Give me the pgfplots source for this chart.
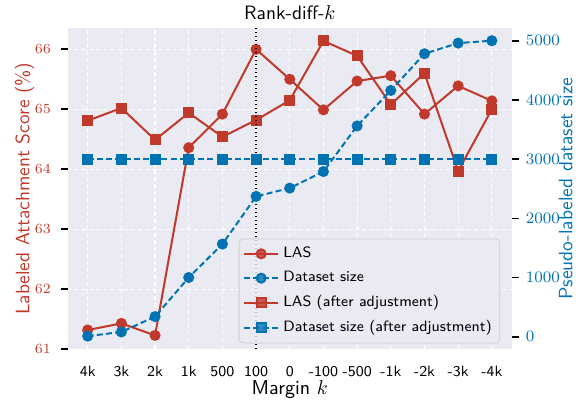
\documentclass[border=0pt]{standalone}
\usepackage{pgfplots}
\usepackage{pgfplotstable}
\pgfplotsset{compat=1.18}

\definecolor{lasred}{RGB}{192,57,43}
\definecolor{dsblue}{RGB}{1,115,178}
\definecolor{bggray}{RGB}{234,234,242}

% idx: 0=4k ... 12=-4k
\pgfplotstableread{
idx las   lasadj size sizeadj
0   61.32 64.81  10   3000
1   61.43 65.02  80   3000
2   61.23 64.49  340  3000
3   64.36 64.94  1000 3000
4   64.92 64.54  1565 3000
5   66.00 64.82  2370 3000
6   65.50 65.15  2510 3000
7   64.99 66.14  2790 3000
8   65.47 65.89  3560 3000
9   65.56 65.08  4160 3000
10  64.92 65.60  4780 3000
11  65.39 63.97  4960 3000
12  65.14 65.00  5000 3000
}\data

\pgfplotsset{
  twin/.style={
    scale only axis, width=221.85pt, height=160.9pt,
    xmin=-0.585, xmax=12.59,
    axis line style={draw=none},
    tick align=outside, major tick length=3.5pt,
  },
  lasline/.style={lasred, line width=1pt, mark size=2.25pt, mark options={solid, fill=lasred, draw=lasred}},
  dsline/.style={dsblue, line width=1pt, dash pattern=on 3pt off 1.6pt, mark size=2.25pt, mark options={solid, fill=dsblue, draw=dsblue}},
}

\begin{document}
\begin{tikzpicture}
\begin{axis}[twin,
  ymin=60.995, ymax=66.36,
  axis background/.style={fill=bggray},
  xtick={0,...,12},
  xticklabels={\textsf{4k},\textsf{3k},\textsf{2k},\textsf{1k},\textsf{500},\textsf{100},\textsf{0},\textsf{-100},\textsf{-500},\textsf{-1k},\textsf{-2k},\textsf{-3k},\textsf{-4k}},
  xtick pos=bottom, xtick style={draw=none},
  xticklabel style={font=\sffamily\fontsize{7.5}{9}\selectfont, anchor=base, yshift=-9.8pt},
  ytick={61,62,63,64,65,66}, ytick pos=left,
  ytick style={black, line width=0.8pt},
  yticklabel style={text=lasred, font=\fontsize{7.5}{9}\selectfont, xshift=-1.5pt},
  grid=major, major grid style={white, line width=0.6pt, dash pattern=on 2pt off 1.5pt},
  title={Rank-diff-$k$},
  every axis title/.style={at={(rel axis cs:0.5,1)}, anchor=base, yshift=3.9pt, font=\sffamily\fontsize{9.7}{11}\selectfont},
  xlabel={Margin $k$},
  every axis x label/.style={at={(rel axis cs:0.5,0)}, anchor=base, yshift=-22.7pt, font=\sffamily\fontsize{10}{12}\selectfont},
  ylabel={Labeled Attachment Score (\%)},
  every axis y label/.style={at={(rel axis cs:0,0.5)}, xshift=-21.75pt, rotate=90, anchor=center, text=lasred, font=\sffamily\fontsize{9.7}{11}\selectfont},
]
\addplot[lasline, mark=*] table[x=idx, y=las] {\data};
\addplot[lasline, mark=square*] table[x=idx, y=lasadj] {\data};
\end{axis}

\begin{axis}[twin,
  ymin=-216, ymax=5220,
  axis x line=none,
  ytick={0,1000,2000,3000,4000,5000}, ytick pos=right, yticklabel pos=right,
  ytick style={black, line width=0.8pt},
  scaled y ticks=false,
  yticklabel style={text=dsblue, font=\fontsize{8}{9}\selectfont, /pgf/number format/1000 sep={}},
  ylabel={Pseudo-labeled dataset size},
  every axis y label/.style={at={(rel axis cs:1,0.5)}, xshift=27pt, rotate=90, anchor=center, text=dsblue, font=\sffamily\fontsize{9.7}{11}\selectfont},
  legend style={at={(rel axis cs:0.974,0.019)}, anchor=south east,
    fill=bggray, fill opacity=0.8, text opacity=1, draw=black!20, rounded corners=2pt,
    font=\sffamily\fontsize{7.5}{9}\selectfont, row sep=1.4pt, inner xsep=2pt, inner ysep=2pt},
  legend cell align=left,
]
\addlegendimage{lasline, mark=*}
\addlegendentry{LAS}
\addplot[dsline, mark=*] table[x=idx, y=size] {\data};
\addlegendentry{Dataset size}
\addlegendimage{lasline, mark=square*}
\addlegendentry{LAS (after adjustment)}
\addplot[dsline, mark=square*] table[x=idx, y=sizeadj] {\data};
\addlegendentry{Dataset size (after adjustment)}
\addplot[black, line width=1pt, dash pattern=on 0.9pt off 1.1pt, forget plot] coordinates {(5,-216) (5,5220)};
\end{axis}
\pgfresetboundingbox
\path (-34pt,-27.75pt) rectangle (256.5pt,174.75pt);
\end{tikzpicture}
\end{document}
